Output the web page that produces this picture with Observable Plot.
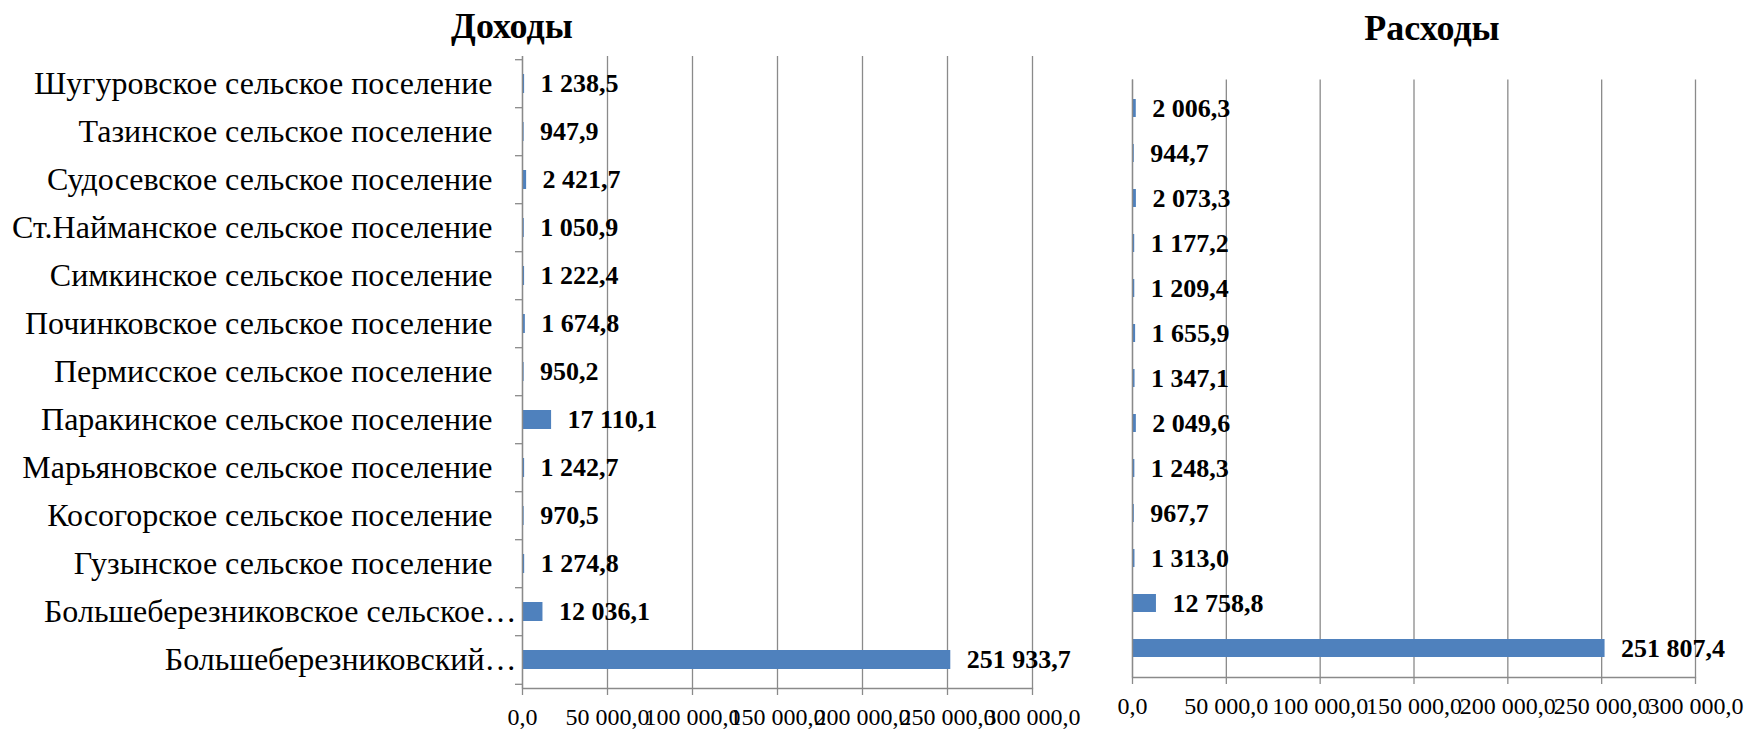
<!DOCTYPE html>
<html><head><meta charset="utf-8">
<script src="https://cdn.jsdelivr.net/npm/d3@7"></script>
<script src="https://cdn.jsdelivr.net/npm/@observablehq/plot@0.6"></script>
<style>
body{margin:0;background:#fff;}
#wrap{position:relative;width:1752px;height:731px;font-family:"Liberation Serif","Times New Roman",serif;overflow:hidden;}
.title{position:absolute;font-weight:bold;font-size:36px;transform:translateX(-50%);white-space:nowrap;line-height:1;color:#000;}
#left{position:absolute;left:0;top:0}
#right{position:absolute;left:1100px;top:0}
</style></head><body>
<div id="wrap">
 <div id="left"></div><div id="right"></div>
 <div class="title" id="t1" style="left:512px;top:8px"></div>
 <div class="title" id="t2" style="left:1432px;top:10px"></div>
</div>
<script>
const categories = [
  "Шугуровское сельское поселение",
  "Тазинское сельское поселение",
  "Судосевское сельское поселение",
  "Ст.Найманское сельское поселение",
  "Симкинское сельское поселение",
  "Починковское сельское поселение",
  "Пермисское сельское поселение",
  "Паракинское сельское поселение",
  "Марьяновское сельское поселение",
  "Косогорское сельское поселение",
  "Гузынское сельское поселение",
  "Большеберезниковское сельское…",
  "Большеберезниковский…"
];
const incomeValues = [1238.5, 947.9, 2421.7, 1050.9, 1222.4, 1674.8, 950.2, 17110.1, 1242.7, 970.5, 1274.8, 12036.1, 251933.7];
const expenseValues = [2006.3, 944.7, 2073.3, 1177.2, 1209.4, 1655.9, 1347.1, 2049.6, 1248.3, 967.7, 1313.0, 12758.8, 251807.4];
const xTicks = [0, 50000, 100000, 150000, 200000, 250000, 300000];
const xTickLabels = ["0,0", "50 000,0", "100 000,0", "150 000,0", "200 000,0", "250 000,0", "300 000,0"];
const titles = ["Доходы", "Расходы"];

document.getElementById("t1").textContent = titles[0];
document.getElementById("t2").textContent = titles[1];

const fmt = d3.formatLocale({decimal: ",", thousands: " ", grouping: [3], currency: ["", ""]}).format(",.1f");
const gridColor = "#8a8a8a";

function chart(values, {width, height, marginLeft, marginRight, marginTop, marginBottom, showLabels}) {
  const data = categories.map((c, i) => ({category: c, value: values[i]}));
  const step = (height - marginTop - marginBottom) / categories.length;
  const full = categories.filter(c => !c.endsWith("…"));
  const truncated = categories.filter(c => c.endsWith("…"));
  return Plot.plot({
    width, height, marginLeft, marginRight, marginTop, marginBottom,
    style: {fontFamily: "Liberation Serif, Times New Roman, serif", background: "transparent", color: "black", overflow: "visible"},
    x: {domain: [0, 300000], label: null},
    y: {domain: categories, paddingInner: 0.6, paddingOuter: 0.3, label: null, axis: showLabels ? undefined : null},
    marks: [
      Plot.gridX(xTicks, {stroke: gridColor, strokeOpacity: 1, strokeWidth: 1.3}),
      Plot.barX(data, {x: "value", y: "category", fill: "#4f81bd"}),
      Plot.ruleX([0], {stroke: gridColor, strokeWidth: 1.3}),
      Plot.frame({anchor: "bottom", stroke: gridColor, strokeWidth: 1.3}),
      Plot.axisX(xTicks, {tickSize: 7, tickPadding: 12, fontSize: 24, stroke: gridColor, fill: "black", strokeWidth: 1.3,
        tickFormat: d => xTickLabels[xTicks.indexOf(d)], label: null}),
      showLabels ? Plot.axisY(full, {tickSize: 0, tickPadding: 30, fontSize: 32, fill: "black", label: null}) : null,
      showLabels ? Plot.axisY(truncated, {tickSize: 0, tickPadding: 6, fontSize: 32, fill: "black", label: null}) : null,
      showLabels ? Plot.axisY({tickSize: 7, tickFormat: () => "", dy: -step / 2, stroke: gridColor, strokeWidth: 1.3, label: null}) : null,
      showLabels ? Plot.axisY(categories.slice(-1), {tickSize: 7, tickFormat: () => "", dy: step / 2, stroke: gridColor, strokeWidth: 1.3, label: null}) : null,
      Plot.text(data, {x: "value", y: "category", text: d => fmt(d.value), dx: 16, textAnchor: "start",
        fontWeight: "bold", fontSize: 26, fill: "black"})
    ]
  });
}

document.getElementById("left").append(chart(incomeValues, {
  width: 1100, height: 731, marginLeft: 522, marginRight: 68, marginTop: 56, marginBottom: 43, showLabels: true
}));
document.getElementById("right").append(chart(expenseValues, {
  width: 652, height: 731, marginLeft: 32, marginRight: 57, marginTop: 79.5, marginBottom: 54, showLabels: false
}));
</script>
</body></html>
